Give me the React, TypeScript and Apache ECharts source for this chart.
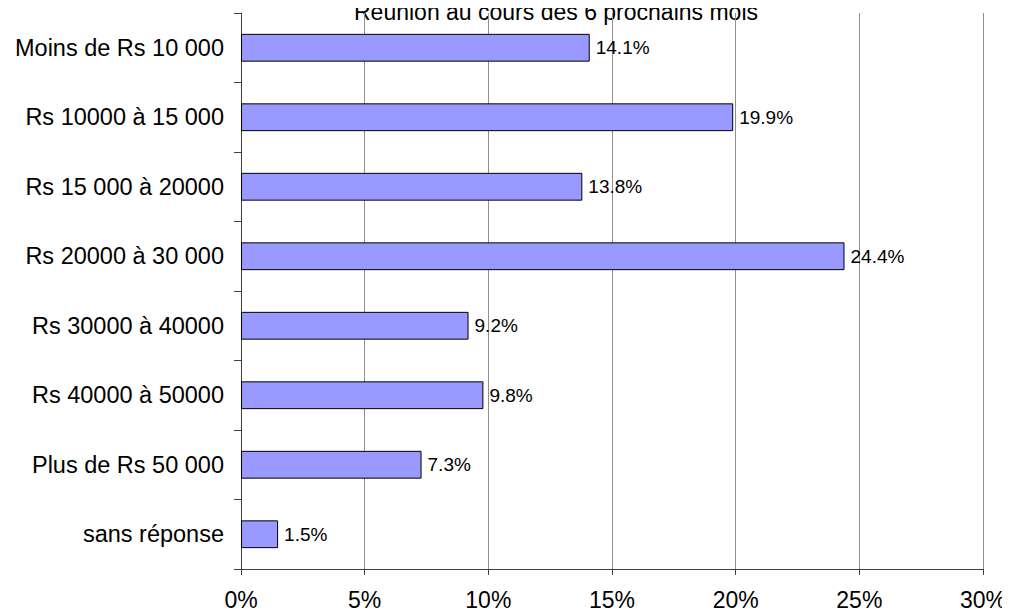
import React, { useEffect, useRef } from "react";
import * as echarts from "echarts";

const titleText = "Réunion au cours des 6 prochains mois";
const categories = [
  "Moins de Rs 10 000",
  "Rs 10000 à 15 000",
  "Rs 15 000 à 20000",
  "Rs 20000 à 30 000",
  "Rs 30000 à 40000",
  "Rs 40000 à 50000",
  "Plus de Rs 50 000",
  "sans réponse",
];
const values = [14.1, 19.9, 13.8, 24.4, 9.2, 9.8, 7.3, 1.5];
const FONT = "'Liberation Sans', Arial, sans-serif";

export default function App() {
  const ref = useRef<HTMLDivElement>(null);
  useEffect(() => {
    if (!ref.current) return;
    const chart = echarts.init(ref.current, undefined, { renderer: "svg" });
    chart.setOption({
      animation: false,
      backgroundColor: "#ffffff",
      graphic: [
        {
          type: "text",
          x: 548,
          y: 4,
          style: {
            text: titleText,
            font: `23px ${FONT}`,
            fill: "#000",
            align: "center",
            verticalAlign: "middle",
          },
        },
      ],
      grid: { left: 233, right: 27, top: 5, bottom: 44, containLabel: false },
      xAxis: {
        type: "value",
        min: 0,
        max: 30,
        interval: 5,
        axisLine: { show: true, lineStyle: { color: "#404040", width: 1 } },
        axisTick: { show: true, length: 6, lineStyle: { color: "#404040" } },
        axisLabel: {
          formatter: (v: number) => `${v}%`,
          color: "#000",
          fontFamily: FONT,
          fontSize: 23,
          margin: 19,
        },
        splitLine: { show: true, lineStyle: { color: "#909090", width: 1 } },
      },
      yAxis: {
        type: "category",
        data: categories,
        inverse: true,
        axisLine: { show: true, lineStyle: { color: "#404040", width: 1 } },
        axisTick: { show: true, length: 7, lineStyle: { color: "#404040" } },
        axisLabel: {
          color: "#000",
          fontFamily: FONT,
          fontSize: 23.5,
          margin: 17,
        },
      },
      series: [
        {
          type: "bar",
          data: values,
          barCategoryGap: "60%",
          itemStyle: { color: "#9999FF", borderColor: "#000", borderWidth: 1 },
          label: {
            show: true,
            position: "right",
            distance: 6,
            formatter: (p: any) => `${Number(p.value).toFixed(1)}%`,
            color: "#000",
            fontFamily: FONT,
            fontSize: 19,
          },
        },
      ],
    });
    return () => chart.dispose();
  }, []);
  return <div ref={ref} style={{ width: 1002, height: 605 }} />;
}
